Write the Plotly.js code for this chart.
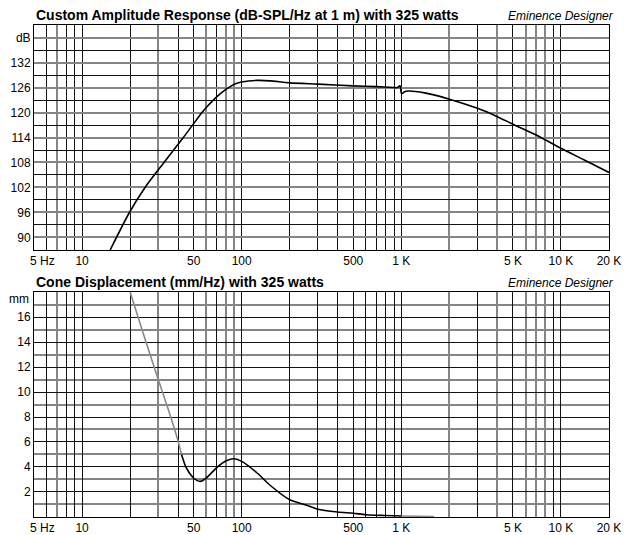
<!DOCTYPE html>
<html>
<head>
<meta charset="utf-8">
<script src="https://cdn.plot.ly/plotly-3.0.1.min.js"></script>
<style>
  html, body { margin: 0; padding: 0; background: #fff; }
  #chart { width: 629px; height: 535px; }
</style>
</head>
<body>
<div id="chart"></div>
<script>
// amplitude response
const freqSpl = [15, 19.8, 24.8, 32.6, 43.1, 56.4, 60, 70, 80, 90, 100, 125, 150, 200, 300, 500, 700, 900, 940, 980, 1005, 1050, 1100, 1400, 2000, 3000, 4000, 5000, 7000, 10000, 14000, 20000];
const splDb   = [87.0, 96.0, 102.0, 108.0, 114.0, 120.0, 121.2, 123.8, 125.6, 126.8, 127.3, 127.7, 127.6, 127.1, 126.8, 126.4, 126.2, 126.0, 125.95, 126.4, 124.5, 125.0, 125.15, 124.7, 123.2, 121.0, 119.0, 117.2, 114.6, 111.4, 108.6, 105.6];

// cone displacement (gray part = past the limit)
const freqOver = [20, 25, 30, 35, 40, 42];
const dispOver = [18.0, 14.1, 11.0, 8.46, 6.05, 5.0];
const freqDisp = [42, 45, 50, 55, 60, 70, 80, 90, 100, 125, 150, 200, 250, 300, 400, 500, 600, 800, 1000];
const dispMm   = [5.0, 3.92, 3.12, 2.85, 3.12, 3.97, 4.5, 4.66, 4.45, 3.52, 2.56, 1.38, 0.98, 0.62, 0.4, 0.3, 0.18, 0.12, 0.08];
const freqTail = [1000, 1600];
const dispTail = [0.08, 0.04];

// frequency grid lines (dark / light as they show in the reference)
const gridDark  = [6, 8, 9, 10, 20, 40, 50, 70, 100, 200, 300, 400, 500, 600, 700, 800, 900, 1000, 3000, 5000, 9000, 10000];
const gridLight = [7, 30, 60, 80, 90, 2000, 4000, 6000, 7000, 8000];
const freqLabels = { 5: '\u00a0\u00a0\u00a0\u00a0\u00a05 Hz', 10: '10', 50: '50', 100: '100', 500: '500', 1000: '1 K', 5000: '5 K', 10000: '10 K', 20000: '20 K' };

const dbTicks = [90, 96, 102, 108, 114, 120, 126, 132, 138];
const dbText  = ['90', '96', '102', '108', '114', '120', '126', '132', 'dB'];
const dbMinor = [93, 99, 105, 111, 117, 123, 129, 135];

const mmTicks = [2, 4, 6, 8, 10, 12, 14, 16];
const mmMinor = [1, 3, 5, 7, 9, 11, 13, 15, 17];

const FONT = 'Liberation Sans, Arial, sans-serif';
const DARK = '#111';
const LIGHT = '#858585';
const xRange = [Math.log10(5), Math.log10(20000)];

// major ticks = dark lines + labelled edges, blank text where there is no label
const xMajor = [...new Set([5, 20000, ...gridDark])].sort((a, b) => a - b);
const xMajorText = xMajor.map(v => freqLabels[v] || '');

function freqAxis(anchor) {
  return {
    type: 'log', range: xRange, anchor: anchor,
    tickmode: 'array', tickvals: xMajor, ticktext: xMajorText, ticks: '',
    tickfont: { size: 12, color: '#000' },
    showgrid: true, gridcolor: DARK, gridwidth: 1,
    minor: { tickmode: 'array', tickvals: gridLight, showgrid: true, gridcolor: LIGHT, gridwidth: 2, ticks: '' },
    showline: true, linecolor: '#000', linewidth: 1, mirror: true, zeroline: false,
  };
}

const curve = (color) => ({ color: color, width: 1.6, shape: 'spline', smoothing: 0.7 });

const data = [
  { x: freqSpl, y: splDb, xaxis: 'x', yaxis: 'y', mode: 'lines', line: curve('#000') },
  { x: freqOver, y: dispOver, xaxis: 'x2', yaxis: 'y2', mode: 'lines', line: curve('#8a8a8a') },
  { x: freqDisp, y: dispMm, xaxis: 'x2', yaxis: 'y2', mode: 'lines', line: curve('#000') },
  { x: freqTail, y: dispTail, xaxis: 'x2', yaxis: 'y2', mode: 'lines', line: curve('#8a8a8a') },
];

const layout = {
  width: 629, height: 535,
  margin: { l: 34, r: 20, t: 25, b: 18 },
  paper_bgcolor: '#fff', plot_bgcolor: '#fff',
  font: { family: FONT, size: 12, color: '#000' },
  showlegend: false, hovermode: false,
  xaxis: freqAxis('y'),
  xaxis2: freqAxis('y2'),
  yaxis: {
    domain: [0.5427, 1], range: [87, 141], anchor: 'x',
    tickmode: 'array', tickvals: dbTicks, ticktext: dbText, ticks: '',
    showgrid: true, gridcolor: LIGHT, gridwidth: 2,
    minor: { tickmode: 'array', tickvals: dbMinor, showgrid: true, gridcolor: DARK, gridwidth: 1, ticks: '' },
    showline: true, linecolor: '#000', linewidth: 1, mirror: true, zeroline: false,
  },
  yaxis2: {
    domain: [0, 0.4573], range: [0, 18], anchor: 'x2',
    tickmode: 'array', tickvals: mmTicks, ticks: '',
    showgrid: true, gridcolor: DARK, gridwidth: 1,
    minor: { tickmode: 'array', tickvals: mmMinor, showgrid: true, gridcolor: LIGHT, gridwidth: 2, ticks: '' },
    showline: true, linecolor: '#000', linewidth: 1, mirror: true, zeroline: false,
  },
  annotations: [
    { text: '<b>Custom Amplitude Response (dB-SPL/Hz at 1 m) with 325 watts</b>', xref: 'paper', yref: 'paper',
      x: 0, y: 1, xanchor: 'left', yanchor: 'bottom', showarrow: false, font: { size: 14 } },
    { text: '<i>Eminence Designer</i>', xref: 'paper', yref: 'paper',
      x: 1, y: 1, xanchor: 'right', yanchor: 'bottom', xshift: 7, showarrow: false, font: { size: 12 } },
    { text: '<b>Cone Displacement (mm/Hz) with 325 watts</b>', xref: 'paper', yref: 'paper',
      x: 0, y: 0.4573, xanchor: 'left', yanchor: 'bottom', showarrow: false, font: { size: 14 } },
    { text: '<i>Eminence Designer</i>', xref: 'paper', yref: 'paper',
      x: 1, y: 0.4573, xanchor: 'right', yanchor: 'bottom', xshift: 7, showarrow: false, font: { size: 12 } },
    { text: 'mm', xref: 'paper', yref: 'y2', x: 0, y: 17.45, xanchor: 'right', yanchor: 'middle',
      xshift: -3, showarrow: false, font: { size: 12 } },
  ],
};

Plotly.newPlot('chart', data, layout, { staticPlot: true });
</script>
</body>
</html>
